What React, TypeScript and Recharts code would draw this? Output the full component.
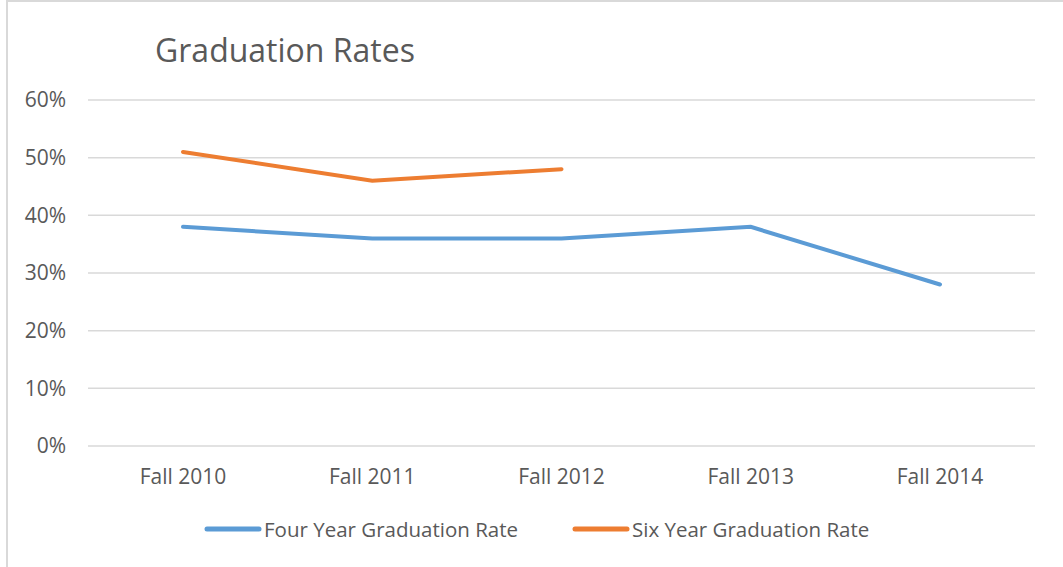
import React from 'react';
import { LineChart, Line, XAxis, YAxis, CartesianGrid, Legend } from 'recharts';

// Values
const terms = ['Fall 2010', 'Fall 2011', 'Fall 2012', 'Fall 2013', 'Fall 2014'];
const fourYearRate = [0.38, 0.36, 0.36, 0.38, 0.28];
const sixYearRate: (number | null)[] = [0.51, 0.46, 0.48, null, null];
const yTicks = [0, 0.1, 0.2, 0.3, 0.4, 0.5, 0.6];

const seriesNames = ['Four Year Graduation Rate', 'Six Year Graduation Rate'];
const seriesColors = ['#5B9BD5', '#ED7D31'];

const chartData = terms.map((term, i) => ({
  term,
  four: fourYearRate[i],
  six: sixYearRate[i],
}));

const FONT = '"Open Sans", "Noto Sans", sans-serif';
const TEXT_COLOR = '#595959';

const formatPercent = (v: number) => `${Math.round(v * 100)}%`;

// Legend drawn like the office style: thick rounded line, then the label
const renderLegend = () => (
  <div style={{ display: 'flex', alignItems: 'center', gap: 54, height: 28, fontFamily: FONT, fontSize: 20.5, color: TEXT_COLOR }}>
    {seriesNames.map((name, i) => (
      <div key={name} style={{ display: 'flex', alignItems: 'center' }}>
        <svg width={58} height={8} style={{ marginRight: 2 }}>
          <line x1={3} y1={4} x2={55} y2={4} stroke={seriesColors[i]} strokeWidth={5} strokeLinecap="round" />
        </svg>
        <span style={{ whiteSpace: 'nowrap' }}>{name}</span>
      </div>
    ))}
  </div>
);

export default function App() {
  return (
    <div style={{ position: 'absolute', left: 0, top: 0, width: 1063, height: 567, background: '#fff', overflow: 'hidden' }}>
      {/* chart frame: only the left and top edges show in the crop */}
      <div style={{ position: 'absolute', left: 6, top: 0, width: 1063, height: 567, borderLeft: '2px solid #d9d9d9', borderTop: '2px solid #d9d9d9', boxSizing: 'border-box' }} />
      <div style={{ position: 'absolute', left: 155, top: 34, fontFamily: FONT, fontSize: 32, lineHeight: '32px', color: TEXT_COLOR, whiteSpace: 'nowrap' }}>
        Graduation Rates
      </div>
      <div style={{ position: 'absolute', left: 0, top: 0 }}>
        <LineChart width={1063} height={567} data={chartData} margin={{ top: 100, right: 28, bottom: 63, left: 0 }}>
          <CartesianGrid vertical={false} stroke="#d9d9d9" strokeWidth={1.5} />
          <XAxis
            dataKey="term"
            axisLine={false}
            tickLine={false}
            tickMargin={17}
            height={30}
            padding={{ left: 95, right: 95 }}
            tick={{ fill: TEXT_COLOR, fontSize: 21, fontFamily: FONT }}
          />
          <YAxis
            domain={[0, 0.6]}
            ticks={yTicks}
            tickFormatter={formatPercent}
            axisLine={false}
            tickLine={false}
            tickMargin={16}
            width={88}
            tick={{ fill: TEXT_COLOR, fontSize: 21, fontFamily: FONT }}
          />
          <Legend content={renderLegend} wrapperStyle={{ left: 204, top: 515, width: 'auto' }} />
          <Line
            dataKey="four"
            name={seriesNames[0]}
            stroke={seriesColors[0]}
            strokeWidth={4}
            strokeLinecap="round"
            dot={false}
            activeDot={false}
            isAnimationActive={false}
          />
          <Line
            dataKey="six"
            name={seriesNames[1]}
            stroke={seriesColors[1]}
            strokeWidth={4}
            strokeLinecap="round"
            dot={false}
            activeDot={false}
            isAnimationActive={false}
          />
        </LineChart>
      </div>
    </div>
  );
}
